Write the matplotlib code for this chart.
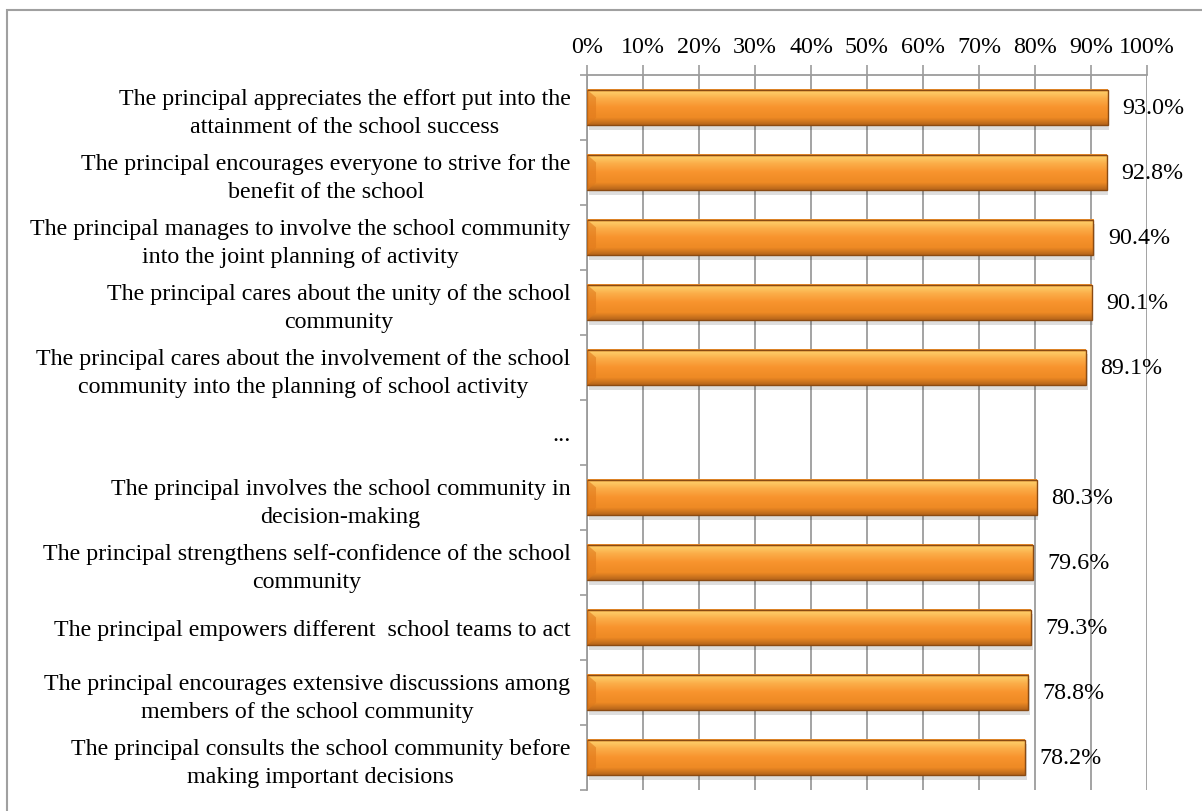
import numpy as np
import matplotlib
matplotlib.use("Agg")
import matplotlib.pyplot as plt
from matplotlib.colors import LinearSegmentedColormap
from matplotlib.patches import Rectangle

# chart data, top to bottom ("..." marks the skipped middle part)
labels = [
    "The principal appreciates the effort put into the\nattainment of the school success",
    "The principal encourages everyone to strive for the\nbenefit of the school",
    "The principal manages to involve the school community\ninto the joint planning of activity",
    "The principal cares about the unity of the school\ncommunity",
    "The principal cares about the involvement of the school\ncommunity into the planning of school activity",
    "...",
    "The principal involves the school community in\ndecision-making",
    "The principal strengthens self-confidence of the school\ncommunity",
    "The principal empowers different  school teams to act",
    "The principal encourages extensive discussions among\nmembers of the school community",
    "The principal consults the school community before\nmaking important decisions",
]
values = [93.0, 92.8, 90.4, 90.1, 89.1, None, 80.3, 79.6, 79.3, 78.8, 78.2]
x_ticks = [0, 10, 20, 30, 40, 50, 60, 70, 80, 90, 100]
x_ticklabels = [f"{t}%" for t in x_ticks]

plt.rcParams['font.family'] = ['Liberation Serif', 'DejaVu Serif']
FS = 17.3

fig = plt.figure(figsize=(12.02, 8.11), dpi=100)
ax = fig.add_axes([0.4884, 0.0259, 0.4658, 0.8816])

grid_col = '#9c9c9c'
n = len(labels)
ys = np.arange(n)
bar_h = 0.55

# orange bevel-ish gradient, top row first
grad = LinearSegmentedColormap.from_list('bar', [
    (0.0, '#F08A25'), (0.08, '#FDCB66'), (0.25, '#FBAE4A'),
    (0.5, '#F8942E'), (0.8, '#EE8a24'), (1.0, '#B5641A')])
img = grad(np.linspace(0, 1, 64))[:, None, :3]

for y, v in zip(ys, values):
    if v is None:
        continue
    # soft shadow
    ax.add_patch(Rectangle((0.3, y - bar_h / 2 + 0.07), v, bar_h,
                           color='#000000', alpha=0.13, lw=0, zorder=2))
    ax.imshow(img, extent=(0, v, y + bar_h / 2, y - bar_h / 2),
              aspect='auto', interpolation='bilinear', zorder=3)
    ax.add_patch(Rectangle((0, y - bar_h / 2), v, bar_h, fill=False,
                           edgecolor='#8a4a12', lw=1.0, zorder=4))
    # small bevel at the left end
    ax.fill([0, 1.6, 1.6, 0], [y - bar_h / 2, y - bar_h / 2 + 0.12,
                              y + bar_h / 2 - 0.12, y + bar_h / 2],
            color='#e07a1c', alpha=0.6, lw=0, zorder=4)
    ax.text(v + 2.6, y + 0.02, f"{v:.1f}%", ha='left', va='center',
            fontsize=FS, zorder=5)

ax.set_xlim(0, 100)
ax.set_ylim(n - 0.5, -0.5)

ax.xaxis.tick_top()
ax.set_xticks(x_ticks)
ax.set_xticklabels(x_ticklabels, fontsize=FS)
ax.tick_params(axis='x', direction='out', length=7, width=1.2,
               color=grid_col, pad=5)
ax.grid(axis='x', color=grid_col, lw=1.3, zorder=0)
ax.set_axisbelow(True)

ax.set_yticks(ys)
ax.set_yticklabels(labels, fontsize=FS, multialignment='center',
                   linespacing=1.45)
ax.set_yticks(np.arange(-0.5, n, 1), minor=True)
ax.tick_params(axis='y', which='major', length=0, pad=12)
ax.tick_params(axis='y', which='minor', length=5, width=1.2,
               color=grid_col, direction='out')

for s in ['right', 'bottom']:
    ax.spines[s].set_visible(False)
for s in ['top', 'left']:
    ax.spines[s].set_color(grid_col)
    ax.spines[s].set_linewidth(1.3)

# outer chart frame (runs off the bottom and right edges)
fig.add_artist(Rectangle((7 / 1202, -0.2), 1.2, 1.2 - 10 / 811,
                         transform=fig.transFigure, fill=False,
                         edgecolor='#a0a0a0', lw=1.5, clip_on=False))

fig.savefig("out.png", dpi=100)
